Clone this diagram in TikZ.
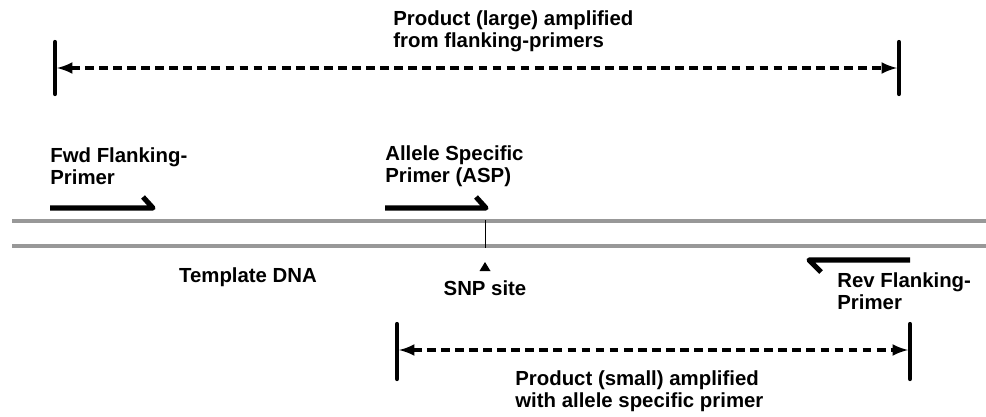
\documentclass[tikz,border=0pt]{standalone}
\usepackage{xcolor}
\usepackage{fontspec}
\setmainfont{Liberation Sans}
\usepackage{tikz}
\usetikzlibrary{calc}
\usetikzlibrary{shapes,arrows,positioning}
\definecolor{strandgray}{HTML}{989898}
\tikzset{
	lbl/.style={font=\bfseries\fontsize{11.6}{12.6}\selectfont,align=left,inner sep=0pt},
	bar/.style={line width=2.4pt,line cap=round},
	span/.style={latex-latex,line width=2pt,dash pattern=on 5pt off 3pt},
	primer/.style={line width=2.9pt,line join=round},
	strand/.style={strandgray,line width=2.4pt}
}
\begin{document}
\begin{tikzpicture}[x=0.02cm,y=-0.02cm]
		\useasboundingbox (0,0) rectangle (986,416);
		% large product from the flanking primers
		\coordinate (LT1) at (55,42); \coordinate (LB1) at (55,94);
		\coordinate (RT1) at (899,42); \coordinate (RB1) at (899,94);
		\draw[bar] (LT1)--(LB1);
		\draw[bar] (RT1)--(RB1);
		\coordinate (large left) at (57,68); \coordinate (large right) at (897,68);
		\draw[span] (large left)--(large right);
		\node[lbl,anchor=west] (large) at (393,31) {Product (large) amplified\\from flanking-primers};
		% template strands
		\coordinate (top start) at (12,221); \coordinate (top end) at (986,221);
		\coordinate (bot start) at (12,246); \coordinate (bot end) at (986,246);
		\draw[strand] (top start)--(top end);
		\draw[strand] (bot start)--(bot end);
		\node[lbl] (template) at (248,277) {Template DNA};
		% SNP position
		\coordinate (snp top) at (485,220); \coordinate (snp bot) at (485,248);
		\draw[thin] (snp top)--(snp bot);
		\fill[black] (485,262)--(490.5,271)--(479.5,271)--cycle;
		\node[lbl] (snp) at (485,288) {SNP site};
		% primers
		\draw[primer] (50,208)--(153,208)--(143,197);
		\node[lbl,anchor=west] (fwd) at (50,166) {Fwd Flanking-\\Primer};
		\draw[primer] (385,208)--(486,208)--(476,197);
		\node[lbl,anchor=west] (asp) at (385,166) {Allele Specific\\Primer (ASP)};
		\draw[primer] (910,260)--(809,260)--(821,272);
		\node[lbl,anchor=west] (rev) at (837,291) {Rev Flanking-\\Primer};
		% small product from the allele specific primer
		\coordinate (LT2) at (397,324); \coordinate (LB2) at (397,379);
		\coordinate (RT2) at (910,324); \coordinate (RB2) at (910,379);
		\draw[bar] (LT2)--(LB2);
		\draw[bar] (RT2)--(RB2);
		\coordinate (small left) at (399,350); \coordinate (small right) at (908,350);
		\draw[span] (small left)--(small right);
		\node[lbl,anchor=west] (small) at (515,391) {Product (small) amplified\\with allele specific primer};
	\end{tikzpicture}
\end{document}
